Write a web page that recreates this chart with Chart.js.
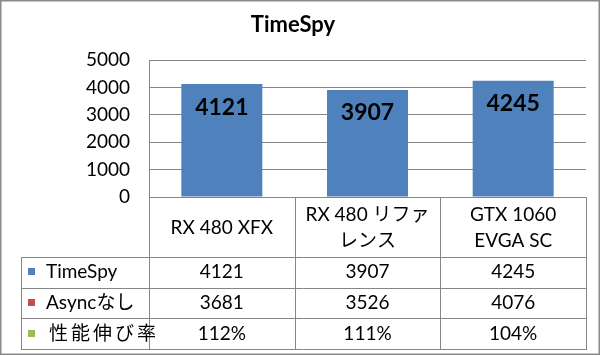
<!DOCTYPE html>
<html>
<head>
<meta charset="utf-8">
<script src="https://cdn.jsdelivr.net/npm/chart.js@4/dist/chart.umd.min.js"></script>
<style>
html,body{margin:0;padding:0;background:#fff;}
#wrap{width:600px;height:356px;position:relative;}
</style>
</head>
<body>
<div id="wrap"><canvas id="c" width="600" height="356"></canvas></div>
<script>
const title = 'TimeSpy';
const categories = [['RX 480 XFX'], ['RX 480 リファ', 'レンス'], ['GTX 1060', 'EVGA SC']];
const seriesNames = ['TimeSpy', 'Asyncなし', '性能伸び率'];
const timeSpy = [4121, 3907, 4245];
const asyncOff = [3681, 3526, 4076];
const gainPct = ['112%', '111%', '104%'];
const yTicks = [0, 1000, 2000, 3000, 4000, 5000];
const seriesColors = ['#4F81BD', '#C0504D', '#9BBB59'];

const FONT = "Lato, 'Noto Sans CJK JP', sans-serif";
const LINE = '#868686';

const tableRows = [
  timeSpy.map(String),
  asyncOff.map(String),
  gainPct
];

const tablePlugin = {
  id: 'tablePlugin',
  afterDraw(chart) {
    const ctx = chart.ctx;
    const ca = chart.chartArea;
    const xs = chart.scales.x;
    const L = ca.left, R = ca.right, B = ca.bottom;
    const tableLeft = 21;
    const headerH = 60;
    const rowH = 30.67;
    const H = B + headerH;
    const bottom = H + rowH * 3;
    const half = (xs.getPixelForValue(1) - xs.getPixelForValue(0)) / 2;
    ctx.save();
    // data labels on bars
    const meta = chart.getDatasetMeta(0);
    ctx.fillStyle = '#000';
    ctx.font = 'bold 23px ' + FONT;
    ctx.textAlign = 'center';
    ctx.textBaseline = 'middle';
    meta.data.forEach((bar, i) => {
      ctx.fillText(String(timeSpy[i]), bar.x, bar.y + 23);
    });
    // table lines
    ctx.strokeStyle = LINE;
    ctx.lineWidth = 1;
    const hl = (y, x0, x1) => { ctx.beginPath(); ctx.moveTo(x0, Math.round(y) + 0.5); ctx.lineTo(x1, Math.round(y) + 0.5); ctx.stroke(); };
    const vl = (x, y0, y1) => { ctx.beginPath(); ctx.moveTo(Math.round(x) + 0.5, y0); ctx.lineTo(Math.round(x) + 0.5, y1); ctx.stroke(); };
    hl(B, L, R);
    hl(H, tableLeft, R);
    for (let r = 1; r <= 3; r++) hl(H + rowH * r, tableLeft, R);
    vl(tableLeft, Math.round(H), Math.round(bottom) + 1);
    for (let i = 0; i < categories.length; i++) {
      const cx = xs.getPixelForValue(i);
      vl(cx - half, B, Math.round(bottom) + 1);
    }
    vl(R, B, Math.round(bottom) + 1);
    // header text
    ctx.fillStyle = '#000';
    ctx.font = '19px ' + FONT;
    ctx.textAlign = 'center';
    ctx.textBaseline = 'middle';
    const hc = B + headerH / 2 + 1;
    categories.forEach((lines, i) => {
      const cx = xs.getPixelForValue(i);
      const lh = 25.7;
      const y0 = hc - (lines.length - 1) * lh / 2;
      lines.forEach((t, k) => ctx.fillText(t, cx, y0 + k * lh));
    });
    // rows
    tableRows.forEach((row, r) => {
      const cy = H + rowH * r + rowH / 2;
      row.forEach((t, i) => {
        ctx.textAlign = 'center';
        ctx.fillText(t, xs.getPixelForValue(i), cy);
      });
      ctx.fillStyle = seriesColors[r];
      ctx.fillRect(28, Math.round(cy) - 4, 7, 7);
      ctx.fillStyle = '#000';
      ctx.textAlign = 'left';
      const name = seriesNames[r];
      const isCJK = /^[\u3040-\u9fff]/.test(name);
      if (isCJK && 'letterSpacing' in ctx) {
        ctx.letterSpacing = '3px';
        ctx.fillText(name, 49, cy);
        ctx.letterSpacing = '0px';
      } else {
        ctx.fillText(name, 46, cy);
      }
    });
    // outer border
    ctx.strokeStyle = '#8a8a8a';
    ctx.lineWidth = 1.5;
    ctx.strokeRect(0.75, 0.75, 598.5, 353.5);
    ctx.restore();
  }
};

new Chart(document.getElementById('c'), {
  type: 'bar',
  data: {
    labels: categories.map(c => c.join(' ')),
    datasets: [{
      label: seriesNames[0],
      data: timeSpy,
      backgroundColor: seriesColors[0],
      borderWidth: 0,
      barPercentage: 0.556,
      categoryPercentage: 1
    }]
  },
  options: {
    responsive: false,
    animation: false,
    layout: { padding: { left: 0, right: 14, top: 0, bottom: 0 } },
    plugins: {
      legend: { display: false },
      tooltip: { enabled: false },
      title: {
        display: true,
        text: title,
        color: '#000',
        font: { family: FONT, size: 22, weight: 'bold' },
        padding: { top: 12, bottom: 21.6 }
      }
    },
    scales: {
      x: {
        grid: { display: false },
        border: { display: false },
        ticks: { display: false },
        afterFit(s) { s.height = 159; }
      },
      y: {
        min: 0,
        max: 5000,
        afterBuildTicks(s) { s.ticks = yTicks.map(v => ({ value: v })); },
        grid: { color: LINE, drawTicks: false },
        border: { color: LINE },
        ticks: {
          color: '#000',
          padding: 19,
          font: { family: FONT, size: 19 },
          callback: v => String(v)
        },
        afterFit(s) { s.width = 149; }
      }
    }
  },
  plugins: [tablePlugin]
});
</script>
</body>
</html>
